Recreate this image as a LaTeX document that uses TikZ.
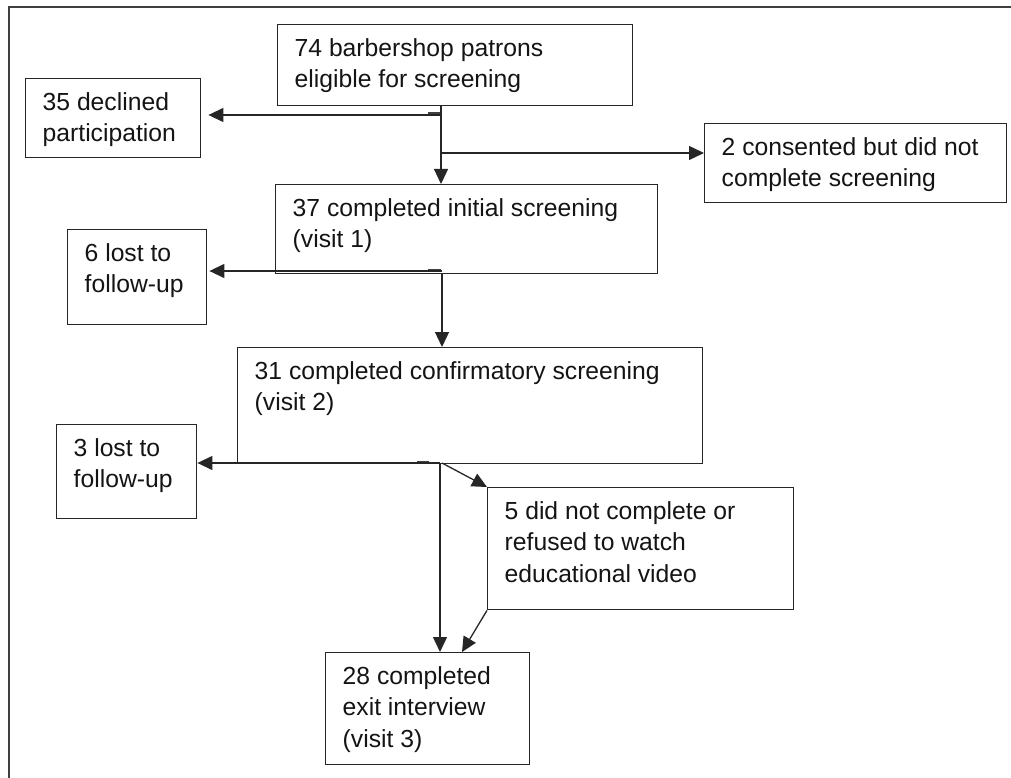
\documentclass[tikz,border=0pt]{standalone}
\usepackage{fontspec}
\setmainfont{Liberation Sans}
\usetikzlibrary{arrows.meta}
\newcommand\bxt[3]{\parbox[t][#2][t]{#1}{\raggedright\rule{0pt}{31.5pt}#3}}
\begin{document}
\begin{tikzpicture}[x=1pt,y=-1pt,
  fbox/.style={draw=black!85, line width=1.4pt, anchor=north west, inner xsep=17pt, inner ysep=0pt,
    font=\fontsize{24.7pt}{31.5pt}\selectfont, text=black!92},
  arr/.style={draw=black!85, line width=1.3pt, -{Triangle[length=15pt,width=14pt]}},
  stub/.style={draw=black!75, line width=2.2pt},
  frame/.style={draw=black!75, line width=2pt}]
\useasboundingbox (0,0) rectangle (1011,778);
\draw[frame] (1011,7) -- (9,7) -- (9,778);

\node[fbox] (n74) at (277,24)  {\bxt{321pt}{81pt}{74 barbershop patrons\\eligible for screening}};
\node[fbox] (n35) at (25,78)   {\bxt{141pt}{79pt}{35 declined\\participation}};
\node[fbox] (n2)  at (704,123) {\bxt{268pt}{79pt}{2 consented but did not\\complete screening}};
\node[fbox] (n37) at (275,184) {\bxt{348pt}{89pt}{37 completed initial screening\\(visit 1)}};
\node[fbox] (n6)  at (67,229)  {\bxt{105pt}{95pt}{6 lost to\\follow-up}};
\node[fbox] (n31) at (237,347) {\bxt{431pt}{116pt}{31 completed confirmatory screening\\(visit 2)}};
\node[fbox] (n3)  at (56,424)  {\bxt{106pt}{94pt}{3 lost to\\follow-up}};
\node[fbox] (n5)  at (487,487) {\bxt{272pt}{122pt}{5 did not complete or\\refused to watch\\educational video}};
\node[fbox] (n28) at (325,652) {\bxt{170pt}{112pt}{28 completed\\exit interview\\(visit 3)}};

\coordinate (j1) at (441,115);
\coordinate (j2) at (441,153);
\coordinate (j3) at (442,271);
\coordinate (j4) at (440,463);
\coordinate (j5) at (442,463);
\coordinate (e28) at (462,652);

\draw[stub] (428,113) -- (441,113);
\draw[stub] (428,270) -- (441,270);
\draw[stub] (417,462) -- (429,462);

\draw[arr] (n74.south -| j1) -- (n37.north -| j1);
\draw[arr, shorten >=7pt] (j1) -- (j1 -| n35.east);
\draw[arr] (j2) -- (j2 -| n2.west);
\draw[arr] (n37.south -| j3) -- (n31.north -| j3);
\draw[arr, shorten >=2pt] (j3) -- (j3 -| n6.east);
\draw[arr] (n31.south -| j4) -- (n28.north -| j4);
\draw[arr] (j4) -- (j4 -| n3.east);
\draw[arr] (j5) -- (n5.north west);
\draw[arr] (n5.south west) -- (e28);
\end{tikzpicture}
\end{document}
